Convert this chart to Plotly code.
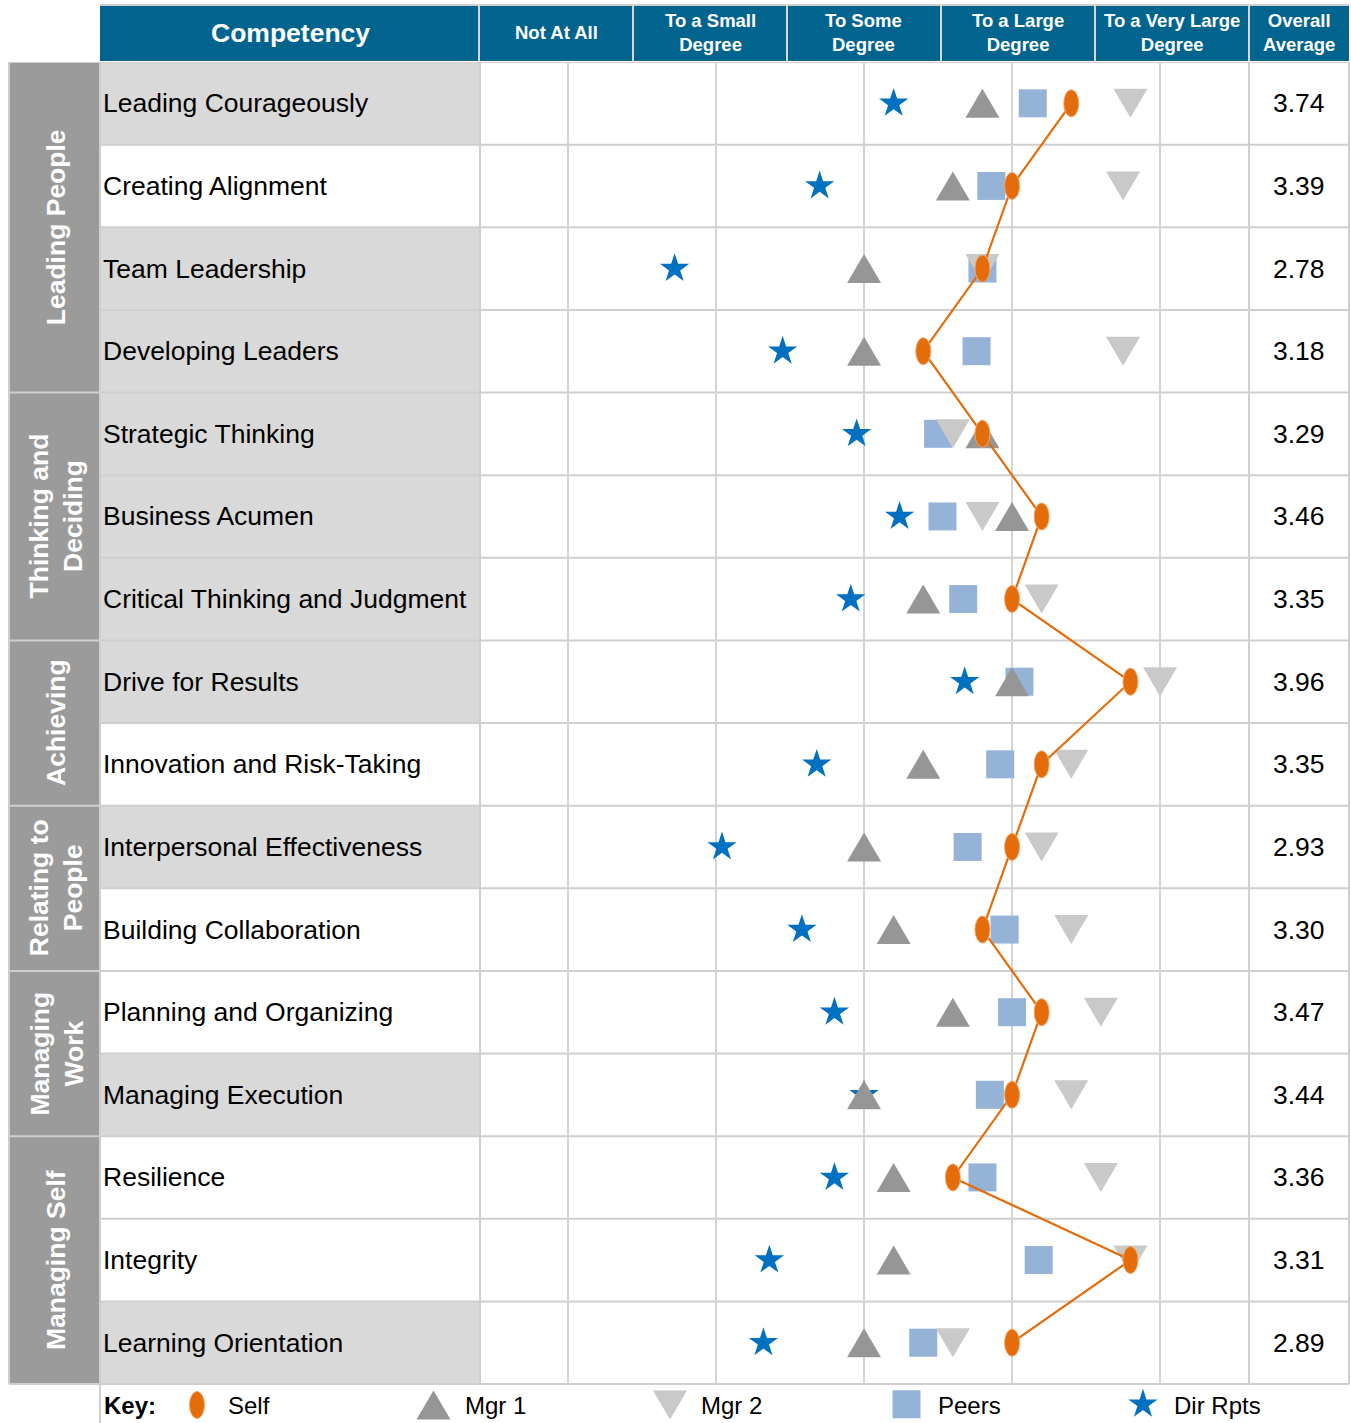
import plotly.graph_objects as go

# ---------------- data ----------------
competencies = [
    "Leading Courageously", "Creating Alignment", "Team Leadership", "Developing Leaders",
    "Strategic Thinking", "Business Acumen", "Critical Thinking and Judgment",
    "Drive for Results", "Innovation and Risk-Taking",
    "Interpersonal Effectiveness", "Building Collaboration",
    "Planning and Organizing", "Managing Execution",
    "Resilience", "Integrity", "Learning Orientation",
]
self_scores = [4.4, 4.0, 3.8, 3.4, 3.8, 4.2, 4.0, 4.8, 4.2, 4.0, 3.8, 4.2, 4.0, 3.6, 4.8, 4.0]
mgr1_scores = [3.8, 3.6, 3.0, 3.0, 3.8, 4.0, 3.4, 4.0, 3.4, 3.0, 3.2, 3.6, 3.0, 3.2, 3.2, 3.0]
mgr2_scores = [4.8, 4.75, 3.8, 4.75, 3.6, 3.8, 4.2, 5.0, 4.4, 4.2, 4.4, 4.6, 4.4, 4.6, 4.8, 3.6]
peer_scores = [4.14, 3.86, 3.8, 3.76, 3.5, 3.53, 3.67, 4.05, 3.92, 3.7, 3.95, 4.0, 3.85, 3.8, 4.18, 3.4]
dirrpt_scores = [3.2, 2.7, 1.72, 2.45, 2.95, 3.24, 2.91, 3.68, 2.68, 2.04, 2.58, 2.8, 3.0, 2.8, 2.36, 2.32]
overall_avg = [3.74, 3.39, 2.78, 3.18, 3.29, 3.46, 3.35, 3.96, 3.35, 2.93, 3.30, 3.47, 3.44, 3.36, 3.31, 2.89]

groups = ["Leading People", "Thinking and<br>Deciding", "Achieving",
          "Relating to<br>People", "Managing<br>Work", "Managing Self"]
group_sizes = [4, 3, 2, 2, 2, 3]
shaded_rows = [1, 0, 1, 1, 1, 1, 1, 1, 0, 1, 0, 0, 1, 0, 0, 1]

scale_values = [1, 2, 3, 4, 5]
scale_labels = ["Not At All", "To a Small<br>Degree", "To Some<br>Degree",
                "To a Large<br>Degree", "To a Very Large<br>Degree"]
key_labels = ["Self", "Mgr 1", "Mgr 2", "Peers", "Dir Rpts"]

# ---------------- styles ----------------
W, H = 1351, 1423
FONT = "Arial, Liberation Sans, sans-serif"
C_HEADER = "#01648f"
C_GROUP = "#9b9b9b"
C_SHADE = "#d9d9d9"
C_LINE = "#cfcfcf"
C_SELF = "#e46c0a"
C_MGR1 = "#969696"
C_MGR2 = "#c9c9c9"
C_PEER = "#95b3d7"
C_DIR = "#0070c0"

TRI_UP = "M -17,-14.5 L 17,-14.5 L 0,14.5 Z"
TRI_DOWN = "M -17,14.5 L 17,14.5 L 0,-14.5 Z"


def px(x):
    return x / W


def py(y):
    return 1 - y / H


TOP, BOT = 62, 1384
n = len(competencies)
rows = list(range(n))

fig = go.Figure()

sym = {"dir": ("star", 22, C_DIR), "peer": ("square", 28, C_PEER)}

for key, vals in [("dir", dirrpt_scores), ("peer", peer_scores)]:
    s, sz, c = sym[key]
    fig.add_trace(go.Scatter(x=vals, y=rows, mode="markers",
                             marker=dict(symbol=s, size=sz, color=c, line=dict(width=0)),
                             showlegend=False, hoverinfo="skip", xaxis="x", yaxis="y"))

shapes = []
annotations = []

# competency column shading
for i, sh in enumerate(shaded_rows):
    if sh:
        shapes.append(dict(type="rect", xref="paper", yref="y", x0=px(101), x1=px(479),
                           y0=i - 0.5, y1=i + 0.5, fillcolor=C_SHADE, line=dict(width=0),
                           layer="below"))
# group column
shapes.append(dict(type="rect", xref="paper", yref="paper", x0=px(9), x1=px(100),
                   y0=py(BOT), y1=py(TOP), fillcolor=C_GROUP, line=dict(width=0), layer="below"))
# header
shapes.append(dict(type="rect", xref="paper", yref="paper", x0=px(100), x1=px(1349),
                   y0=py(61), y1=py(6), fillcolor=C_HEADER, line=dict(width=0), layer="below"))
shapes.append(dict(type="line", xref="paper", yref="paper", x0=px(100), x1=px(1349),
                   y0=py(5), y1=py(5), line=dict(color=C_LINE, width=2), layer="below"))
for xb in [479, 633, 787, 941, 1095, 1249]:
    shapes.append(dict(type="line", xref="paper", yref="paper", x0=px(xb), x1=px(xb),
                       y0=py(61), y1=py(5), line=dict(color="#d8d8d8", width=2), layer="below"))
# row lines
for i in range(n + 1):
    shapes.append(dict(type="line", xref="paper", yref="y", x0=px(100), x1=px(1349),
                       y0=i - 0.5, y1=i - 0.5, line=dict(color=C_LINE, width=2), layer="below"))
# group separators
start = 0
for gs in group_sizes:
    shapes.append(dict(type="line", xref="paper", yref="y", x0=px(9), x1=px(100),
                       y0=start - 0.5, y1=start - 0.5, line=dict(color=C_LINE, width=2),
                       layer="below"))
    start += gs
shapes.append(dict(type="line", xref="paper", yref="paper", x0=px(9), x1=px(1349),
                   y0=py(BOT), y1=py(BOT), line=dict(color=C_LINE, width=2), layer="below"))
# vertical borders
for xb in [9, 100, 480, 1249, 1349]:
    shapes.append(dict(type="line", xref="paper", yref="paper", x0=px(xb), x1=px(xb),
                       y0=py(BOT), y1=py(TOP), line=dict(color=C_LINE, width=2), layer="below"))
shapes.append(dict(type="line", xref="paper", yref="paper", x0=px(100), x1=px(100),
                   y0=0, y1=py(BOT), line=dict(color=C_LINE, width=2), layer="below"))

# manager triangles (anchored at data values, pixel-sized paths)
for vals, path, col in [(mgr2_scores, TRI_DOWN, C_MGR2), (mgr1_scores, TRI_UP, C_MGR1)]:
    for i, v in enumerate(vals):
        shapes.append(dict(type="path", xref="x", yref="y", xsizemode="pixel", ysizemode="pixel",
                           xanchor=v, yanchor=i, path=path, fillcolor=col,
                           line=dict(width=0), layer="above"))

# self line connecting self scores
self_path = "M " + " L ".join(f"{v},{i}" for i, v in enumerate(self_scores))
shapes.append(dict(type="path", xref="x", yref="y", path=self_path,
                   line=dict(color=C_SELF, width=2.2), layer="above"))

# self ellipses (anchored at data values, pixel sized)
for i, v in enumerate(self_scores):
    shapes.append(dict(type="circle", xref="x", yref="y", xsizemode="pixel", ysizemode="pixel",
                       xanchor=v, yanchor=i, x0=-7.5, x1=7.5, y0=-13.5, y1=13.5,
                       fillcolor=C_SELF, line=dict(color="#f2a66a", width=1), layer="above"))


def ann(text, x, y, size, color="black", xref="paper", yref="paper", xanchor="center", **kw):
    d = dict(text=text, xref=xref, yref=yref, x=x, y=y, xanchor=xanchor, yanchor="middle",
             showarrow=False, font=dict(family=FONT, size=size, color=color), align="center")
    d.update(kw)
    return d


# ---------------- text ----------------
annotations.append(ann("<b>Competency</b>", px(290), py(33), 26.5, "white"))
hdr_centers = [556, 710, 864, 1018, 1172]
for lab, cx in zip(scale_labels, hdr_centers):
    annotations.append(ann(f"<b>{lab}</b>", px(cx), py(33), 18.5, "white"))
annotations.append(ann("<b>Overall<br>Average</b>", px(1299), py(33), 18.5, "white"))

for i, name in enumerate(competencies):
    annotations.append(ann(name, px(101), i, 26.5, yref="y", xanchor="left"))
    annotations.append(ann(f"{overall_avg[i]:.2f}", px(1299), i, 26.5, yref="y"))

start = 0
for g, gs in zip(groups, group_sizes):
    annotations.append(ann(f"<b>{g}</b>", px(56), start + (gs - 1) / 2, 26.5, "white",
                           yref="y", textangle=-90))
    start += gs

# ---------------- key ----------------
KEY_Y = py(1405)
key_x0, key_step = 197, 236.5
annotations.append(ann("<b>Key:</b>", px(102), KEY_Y, 24, xanchor="left"))
for k, lab in enumerate(key_labels):
    annotations.append(ann(lab, px(key_x0 + 29 + k * key_step), KEY_Y, 24, xanchor="left"))
shapes.append(dict(type="circle", xref="paper", yref="paper", xsizemode="pixel", ysizemode="pixel",
                   xanchor=px(key_x0), yanchor=KEY_Y, x0=-7.5, x1=7.5, y0=-13.5, y1=13.5,
                   fillcolor=C_SELF, line=dict(color="#f2a66a", width=1), layer="above"))
for k, (path, col) in enumerate([(TRI_UP, C_MGR1), (TRI_DOWN, C_MGR2)]):
    shapes.append(dict(type="path", xref="paper", yref="paper", xsizemode="pixel",
                       ysizemode="pixel", xanchor=px(key_x0 + (k + 1) * key_step), yanchor=KEY_Y,
                       path=path, fillcolor=col, line=dict(width=0), layer="above"))
for k, key in enumerate(["peer", "dir"]):
    s, sz, c = sym[key]
    fig.add_trace(go.Scatter(x=[key_x0 + (k + 3) * key_step], y=[0.5], mode="markers",
                             marker=dict(symbol=s, size=sz, color=c, line=dict(width=0)),
                             showlegend=False, hoverinfo="skip", xaxis="x2", yaxis="y2"))

fig.update_layout(
    width=W, height=H, autosize=False,
    margin=dict(l=0, r=0, t=0, b=0),
    paper_bgcolor="white", plot_bgcolor="rgba(0,0,0,0)",
    showlegend=False,
    xaxis=dict(domain=[px(480), px(1249)], range=[0.405, 5.601], tickvals=scale_values,
               showticklabels=False, ticks="", showgrid=True, gridcolor="#d4d4d4", gridwidth=2,
               zeroline=False, showline=False, fixedrange=True),
    yaxis=dict(domain=[py(BOT), py(TOP)], range=[n - 0.5, -0.5], showticklabels=False,
               showgrid=False, zeroline=False, ticks="", fixedrange=True),
    xaxis2=dict(domain=[0, 1], range=[0, W], visible=False, anchor="y2", fixedrange=True),
    yaxis2=dict(domain=[0, py(BOT) - 0.001], range=[0, 1], visible=False, anchor="x2",
                fixedrange=True),
    shapes=shapes,
    annotations=annotations,
)

fig.write_html("out.html", config={"displayModeBar": False},
               post_script="document.body.style.margin='0';document.body.style.overflow='hidden';")
